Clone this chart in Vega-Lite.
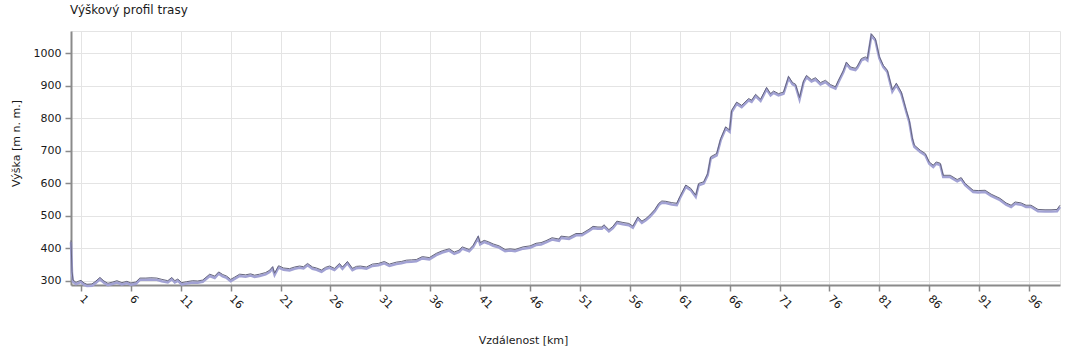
{
  "$schema": "https://vega.github.io/schema/vega-lite/v6.json",
  "autosize": {"type": "none"},
  "width": 989,
  "height": 254,
  "padding": {"left": 71, "top": 31, "right": 20, "bottom": 73},
  "background": "white",
  "config": {
    "font": "DejaVu Sans",
    "view": {"stroke": "#e4e4e4", "strokeWidth": 1},
    "axis": {
      "labelFont": "DejaVu Sans",
      "titleFont": "DejaVu Sans",
      "labelFontSize": 11,
      "titleFontSize": 11,
      "titleFontWeight": "normal",
      "labelColor": "#1a1a1a",
      "titleColor": "#1a1a1a",
      "domainColor": "#8a8a8a",
      "domainWidth": 2,
      "tickColor": "#8a8a8a",
      "tickWidth": 1.5,
      "tickSize": 6,
      "gridColor": "#e4e4e4",
      "gridWidth": 1
    }
  },
  "title": {
    "text": "Výškový profil trasy",
    "anchor": "start",
    "frame": "group",
    "font": "DejaVu Sans",
    "fontSize": 12,
    "fontWeight": "normal",
    "color": "#1a1a1a",
    "offset": 14,
    "dx": -1
  },
  "data": {
    "values": [
      {"km": 0.0, "alt": 425}, {"km": 0.1, "alt": 330}, {"km": 0.2, "alt": 303}, {"km": 0.5, "alt": 296},
      {"km": 0.8, "alt": 300}, {"km": 1.0, "alt": 302}, {"km": 1.3, "alt": 294}, {"km": 1.6, "alt": 290},
      {"km": 2.1, "alt": 291}, {"km": 2.5, "alt": 300}, {"km": 2.9, "alt": 311}, {"km": 3.3, "alt": 300},
      {"km": 3.7, "alt": 293}, {"km": 4.2, "alt": 297}, {"km": 4.6, "alt": 301}, {"km": 5.1, "alt": 295},
      {"km": 5.6, "alt": 299}, {"km": 6.0, "alt": 294}, {"km": 6.5, "alt": 297}, {"km": 6.9, "alt": 309},
      {"km": 7.5, "alt": 309}, {"km": 8.0, "alt": 310}, {"km": 8.6, "alt": 309}, {"km": 9.1, "alt": 305},
      {"km": 9.7, "alt": 301}, {"km": 10.1, "alt": 311}, {"km": 10.4, "alt": 301}, {"km": 10.7, "alt": 306},
      {"km": 11.1, "alt": 295}, {"km": 11.6, "alt": 298}, {"km": 12.2, "alt": 301}, {"km": 12.7, "alt": 300},
      {"km": 13.2, "alt": 303}, {"km": 13.9, "alt": 321}, {"km": 14.4, "alt": 315}, {"km": 14.8, "alt": 328},
      {"km": 15.2, "alt": 320}, {"km": 15.6, "alt": 315}, {"km": 16.0, "alt": 305}, {"km": 16.4, "alt": 312},
      {"km": 16.9, "alt": 321}, {"km": 17.5, "alt": 319}, {"km": 18.0, "alt": 322}, {"km": 18.4, "alt": 318},
      {"km": 18.9, "alt": 321}, {"km": 19.5, "alt": 326}, {"km": 19.9, "alt": 333}, {"km": 20.2, "alt": 344},
      {"km": 20.4, "alt": 324}, {"km": 20.8, "alt": 347}, {"km": 21.3, "alt": 340}, {"km": 21.9, "alt": 338},
      {"km": 22.4, "alt": 343}, {"km": 22.9, "alt": 346}, {"km": 23.3, "alt": 344}, {"km": 23.7, "alt": 354},
      {"km": 24.2, "alt": 343}, {"km": 24.6, "alt": 340}, {"km": 25.1, "alt": 334}, {"km": 25.5, "alt": 342},
      {"km": 25.9, "alt": 346}, {"km": 26.4, "alt": 339}, {"km": 26.9, "alt": 354}, {"km": 27.2, "alt": 343},
      {"km": 27.7, "alt": 360}, {"km": 28.2, "alt": 339}, {"km": 28.6, "alt": 345}, {"km": 29.0, "alt": 346},
      {"km": 29.6, "alt": 343}, {"km": 30.2, "alt": 352}, {"km": 30.8, "alt": 354}, {"km": 31.4, "alt": 360},
      {"km": 31.9, "alt": 352}, {"km": 32.6, "alt": 358}, {"km": 33.1, "alt": 360}, {"km": 33.6, "alt": 364},
      {"km": 34.1, "alt": 365}, {"km": 34.6, "alt": 366}, {"km": 35.2, "alt": 375}, {"km": 35.9, "alt": 372},
      {"km": 36.6, "alt": 385}, {"km": 37.2, "alt": 393}, {"km": 37.9, "alt": 399}, {"km": 38.4, "alt": 389},
      {"km": 38.9, "alt": 395}, {"km": 39.2, "alt": 405}, {"km": 39.9, "alt": 397}, {"km": 40.3, "alt": 410},
      {"km": 40.8, "alt": 438}, {"km": 41.0, "alt": 418}, {"km": 41.4, "alt": 425}, {"km": 41.8, "alt": 421},
      {"km": 42.3, "alt": 414}, {"km": 42.9, "alt": 408}, {"km": 43.5, "alt": 397}, {"km": 44.0, "alt": 399},
      {"km": 44.5, "alt": 397}, {"km": 45.3, "alt": 405}, {"km": 46.0, "alt": 408}, {"km": 46.6, "alt": 416},
      {"km": 47.1, "alt": 418}, {"km": 47.6, "alt": 424}, {"km": 48.2, "alt": 433}, {"km": 48.9, "alt": 429},
      {"km": 49.1, "alt": 438}, {"km": 49.9, "alt": 435}, {"km": 50.6, "alt": 446}, {"km": 51.2, "alt": 446},
      {"km": 51.9, "alt": 459}, {"km": 52.3, "alt": 468}, {"km": 52.8, "alt": 466}, {"km": 53.2, "alt": 466},
      {"km": 53.4, "alt": 473}, {"km": 53.9, "alt": 458}, {"km": 54.3, "alt": 468}, {"km": 54.7, "alt": 484},
      {"km": 55.3, "alt": 480}, {"km": 55.9, "alt": 477}, {"km": 56.3, "alt": 469}, {"km": 56.8, "alt": 497},
      {"km": 57.2, "alt": 484}, {"km": 57.6, "alt": 492}, {"km": 58.0, "alt": 503}, {"km": 58.5, "alt": 520},
      {"km": 58.9, "alt": 539}, {"km": 59.2, "alt": 546}, {"km": 59.6, "alt": 545}, {"km": 60.2, "alt": 541},
      {"km": 60.7, "alt": 539}, {"km": 61.0, "alt": 559}, {"km": 61.6, "alt": 595}, {"km": 62.1, "alt": 585},
      {"km": 62.6, "alt": 564}, {"km": 62.9, "alt": 600}, {"km": 63.4, "alt": 605}, {"km": 63.8, "alt": 631},
      {"km": 64.1, "alt": 682}, {"km": 64.7, "alt": 692}, {"km": 65.1, "alt": 738}, {"km": 65.6, "alt": 774},
      {"km": 66.0, "alt": 764}, {"km": 66.2, "alt": 825}, {"km": 66.7, "alt": 850}, {"km": 67.2, "alt": 840},
      {"km": 67.9, "alt": 861}, {"km": 68.2, "alt": 856}, {"km": 68.6, "alt": 874}, {"km": 69.1, "alt": 859},
      {"km": 69.7, "alt": 895}, {"km": 70.1, "alt": 876}, {"km": 70.4, "alt": 884}, {"km": 70.9, "alt": 876},
      {"km": 71.4, "alt": 881}, {"km": 71.9, "alt": 929}, {"km": 72.3, "alt": 910}, {"km": 72.6, "alt": 905},
      {"km": 73.0, "alt": 864}, {"km": 73.4, "alt": 915}, {"km": 73.7, "alt": 932}, {"km": 74.2, "alt": 919},
      {"km": 74.6, "alt": 925}, {"km": 75.1, "alt": 910}, {"km": 75.6, "alt": 917}, {"km": 76.1, "alt": 904},
      {"km": 76.6, "alt": 897}, {"km": 76.9, "alt": 917}, {"km": 77.4, "alt": 948}, {"km": 77.7, "alt": 973},
      {"km": 78.1, "alt": 958}, {"km": 78.6, "alt": 954}, {"km": 78.8, "alt": 961}, {"km": 79.2, "alt": 984},
      {"km": 79.6, "alt": 989}, {"km": 79.8, "alt": 984}, {"km": 80.2, "alt": 1060}, {"km": 80.6, "alt": 1045},
      {"km": 81.0, "alt": 990}, {"km": 81.4, "alt": 963}, {"km": 81.8, "alt": 948}, {"km": 82.3, "alt": 888},
      {"km": 82.7, "alt": 908}, {"km": 83.2, "alt": 881}, {"km": 83.7, "alt": 825}, {"km": 84.0, "alt": 794},
      {"km": 84.3, "alt": 740}, {"km": 84.5, "alt": 718}, {"km": 85.1, "alt": 702}, {"km": 85.6, "alt": 692},
      {"km": 86.0, "alt": 666}, {"km": 86.4, "alt": 656}, {"km": 86.7, "alt": 666}, {"km": 87.1, "alt": 662},
      {"km": 87.4, "alt": 625}, {"km": 88.1, "alt": 625}, {"km": 88.8, "alt": 612}, {"km": 89.2, "alt": 618},
      {"km": 89.6, "alt": 600}, {"km": 90.4, "alt": 579}, {"km": 90.9, "alt": 578}, {"km": 91.6, "alt": 579},
      {"km": 92.2, "alt": 567}, {"km": 93.1, "alt": 554}, {"km": 93.7, "alt": 540}, {"km": 94.2, "alt": 533},
      {"km": 94.6, "alt": 543}, {"km": 95.2, "alt": 540}, {"km": 95.7, "alt": 533}, {"km": 96.2, "alt": 533},
      {"km": 96.9, "alt": 520}, {"km": 97.6, "alt": 519}, {"km": 98.2, "alt": 519}, {"km": 98.8, "alt": 520},
      {"km": 99.1, "alt": 533}
    ]
  },
  "encoding": {
    "x": {
      "field": "km",
      "type": "quantitative",
      "scale": {"domain": [0, 99.1], "nice": false, "zero": false},
      "axis": {
        "title": "Vzdálenost [km]",
        "values": [1, 6, 11, 16, 21, 26, 31, 36, 41, 46, 51, 56, 61, 66, 71, 76, 81, 86, 91, 96],
        "format": "d",
        "labelAngle": 45,
        "labelAlign": "left",
        "labelBaseline": "middle",
        "labelPadding": 6,
        "titleX": 452,
        "titleY": 55,
        "titleBaseline": "middle",
        "grid": true
      }
    },
    "y": {
      "field": "alt",
      "type": "quantitative",
      "scale": {"domain": [287.7, 1068.6], "nice": false, "zero": false},
      "axis": {
        "title": "Výška [m n. m.]",
        "values": [300, 400, 500, 600, 700, 800, 900, 1000],
        "format": "d",
        "labelPadding": 4,
        "titleX": -55,
        "titleY": 112,
        "titleAngle": -90,
        "titleBaseline": "middle",
        "grid": true
      }
    }
  },
  "layer": [
    {"mark": {"type": "line", "color": "#a2a2d4", "strokeWidth": 2.5, "yOffset": 1.8, "interpolate": "linear"}},
    {"mark": {"type": "line", "color": "#66667e", "strokeWidth": 1, "interpolate": "linear"}}
  ]
}
